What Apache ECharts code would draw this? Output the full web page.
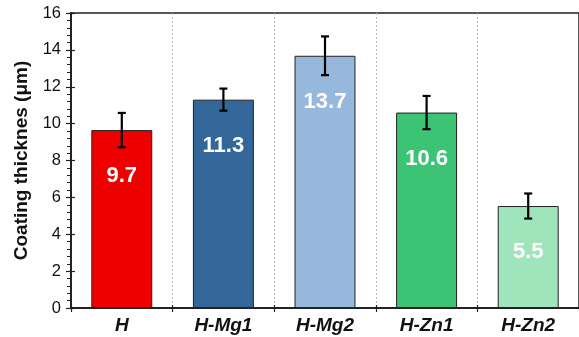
<!DOCTYPE html>
<html><head><meta charset="utf-8">
<script src="https://cdn.jsdelivr.net/npm/echarts@6/dist/echarts.min.js"></script>
<style>html,body{margin:0;padding:0;background:#fff}#c{width:579px;height:337px}</style>
</head><body><div id="c"></div>
<script>
const categories = ['H', 'H-Mg1', 'H-Mg2', 'H-Zn1', 'H-Zn2'];
const values = [9.65, 11.3, 13.68, 10.6, 5.53];
const labels = ['9.7', '11.3', '13.7', '10.6', '5.5'];
const errors = [0.93, 0.6, 1.05, 0.9, 0.68];
const colors = ['#ee0000', '#336699', '#95b8dc', '#3cc373', '#a0e4bb'];
const yTicks = [0, 2, 4, 6, 8, 10, 12, 14, 16];

const chart = echarts.init(document.getElementById('c'), null, {renderer: 'canvas'});
const FONT = 'Liberation Sans, Arial, sans-serif';
chart.setOption({
  animation: false,
  textStyle: {fontFamily: FONT},
  grid: {left: 71, right: -2, top: 13, bottom: 29, show: true, borderColor: '#222', borderWidth: 1.5, backgroundColor: 'transparent'},
  xAxis: [{
    type: 'category', data: categories, boundaryGap: true,
    axisLine: {lineStyle: {color: '#222', width: 2}},
    axisTick: {show: true, length: 4, lineStyle: {color: '#222', width: 1.2}},
    axisLabel: {margin: 8, color: '#111', fontSize: 19, fontWeight: 'bold', fontStyle: 'italic', fontFamily: FONT},
    splitLine: {show: true, lineStyle: {color: '#bbb', type: [2, 2], width: 1}}
  }, {
    type: 'category', data: categories, boundaryGap: true, position: 'bottom',
    axisLine: {show: false},
    axisTick: {show: true, inside: true, length: 3, lineStyle: {color: '#222', width: 1.2}},
    axisLabel: {show: false}, splitLine: {show: false}
  }],
  yAxis: [{
    type: 'value', min: yTicks[0], max: yTicks[yTicks.length - 1], interval: 2,
    name: 'Coating thicknes (\u03bcm)', nameLocation: 'middle', nameGap: 35,
    nameTextStyle: {fontSize: 19, fontWeight: 'bold', color: '#111', fontFamily: FONT},
    axisLine: {show: true, lineStyle: {color: '#222', width: 2}},
    axisTick: {show: true, length: 5, lineStyle: {color: '#222', width: 1.2}},
    minorTick: {show: true, splitNumber: 5, length: 4, lineStyle: {color: '#222', width: 1}},
    axisLabel: {margin: 10, color: '#111', fontSize: 16.5, fontFamily: FONT},
    splitLine: {show: false}
  }, {
    type: 'value', min: yTicks[0], max: yTicks[yTicks.length - 1], interval: 2, position: 'left',
    axisLine: {show: false},
    axisTick: {show: true, inside: true, length: 4, lineStyle: {color: '#222', width: 1.2}},
    axisLabel: {show: false}, splitLine: {show: false}
  }],
  series: [{
    type: 'bar', barWidth: '60%',
    data: values.map((v, i) => ({value: v, itemStyle: {color: colors[i]}})),
    itemStyle: {borderColor: '#222', borderWidth: 1},
    label: {show: true, position: 'insideTop', distance: 35, color: '#fff', fontSize: 22, fontWeight: 'bold', fontFamily: FONT,
      formatter: p => labels[p.dataIndex]}
  }, {
    type: 'custom', z: 10,
    data: values.map((v, i) => [i, v - errors[i], v + errors[i]]),
    renderItem: function (params, api) {
      const lo = api.coord([api.value(0), api.value(1)]);
      const hi = api.coord([api.value(0), api.value(2)]);
      const w = 4;
      const st = {stroke: '#000', lineWidth: 2.2};
      return {type: 'group', children: [
        {type: 'line', shape: {x1: hi[0], y1: hi[1], x2: lo[0], y2: lo[1]}, style: st},
        {type: 'line', shape: {x1: hi[0] - w, y1: hi[1], x2: hi[0] + w, y2: hi[1]}, style: st},
        {type: 'line', shape: {x1: lo[0] - w, y1: lo[1], x2: lo[0] + w, y2: lo[1]}, style: st}
      ]};
    }
  }]
});
</script></body></html>
